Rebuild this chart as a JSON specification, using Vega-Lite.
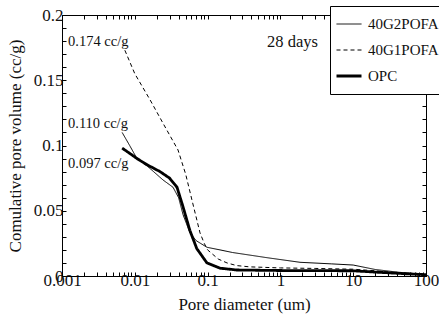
{
  "$schema": "https://vega.github.io/schema/vega-lite/v6.json",
  "width": 364,
  "height": 261,
  "autosize": {"type": "none"},
  "padding": {"left": 62, "top": 15, "right": 13, "bottom": 52},
  "background": "white",
  "config": {
    "view": {"stroke": "black", "strokeWidth": 1},
    "font": "Liberation Serif"
  },
  "datasets": {
    "curves": [
      {"series": "40G2POFA", "d": 0.0067, "v": 0.110},
      {"series": "40G2POFA", "d": 0.0085, "v": 0.100},
      {"series": "40G2POFA", "d": 0.0107, "v": 0.090},
      {"series": "40G2POFA", "d": 0.015, "v": 0.084},
      {"series": "40G2POFA", "d": 0.0244, "v": 0.0736},
      {"series": "40G2POFA", "d": 0.0335, "v": 0.068},
      {"series": "40G2POFA", "d": 0.040, "v": 0.060},
      {"series": "40G2POFA", "d": 0.046, "v": 0.047},
      {"series": "40G2POFA", "d": 0.0573, "v": 0.033},
      {"series": "40G2POFA", "d": 0.070, "v": 0.027},
      {"series": "40G2POFA", "d": 0.098, "v": 0.022},
      {"series": "40G2POFA", "d": 0.148, "v": 0.020},
      {"series": "40G2POFA", "d": 0.22, "v": 0.018},
      {"series": "40G2POFA", "d": 0.66, "v": 0.014},
      {"series": "40G2POFA", "d": 1.86, "v": 0.0105},
      {"series": "40G2POFA", "d": 5, "v": 0.0093},
      {"series": "40G2POFA", "d": 10, "v": 0.0084},
      {"series": "40G2POFA", "d": 20, "v": 0.005},
      {"series": "40G2POFA", "d": 40, "v": 0.003},
      {"series": "40G2POFA", "d": 100, "v": 0.001},
      {"series": "40G1POFA", "d": 0.0073, "v": 0.173},
      {"series": "40G1POFA", "d": 0.010, "v": 0.155},
      {"series": "40G1POFA", "d": 0.0162, "v": 0.135},
      {"series": "40G1POFA", "d": 0.025, "v": 0.116},
      {"series": "40G1POFA", "d": 0.0392, "v": 0.0966},
      {"series": "40G1POFA", "d": 0.050, "v": 0.078},
      {"series": "40G1POFA", "d": 0.0611, "v": 0.058},
      {"series": "40G1POFA", "d": 0.0787, "v": 0.033},
      {"series": "40G1POFA", "d": 0.090, "v": 0.025},
      {"series": "40G1POFA", "d": 0.100, "v": 0.020},
      {"series": "40G1POFA", "d": 0.140, "v": 0.013},
      {"series": "40G1POFA", "d": 0.185, "v": 0.010},
      {"series": "40G1POFA", "d": 0.25, "v": 0.008},
      {"series": "40G1POFA", "d": 0.38, "v": 0.007},
      {"series": "40G1POFA", "d": 1, "v": 0.0062},
      {"series": "40G1POFA", "d": 3, "v": 0.0058},
      {"series": "40G1POFA", "d": 10, "v": 0.0052},
      {"series": "40G1POFA", "d": 20, "v": 0.004},
      {"series": "40G1POFA", "d": 40, "v": 0.0025},
      {"series": "40G1POFA", "d": 100, "v": 0.0015},
      {"series": "OPC", "d": 0.0067, "v": 0.098},
      {"series": "OPC", "d": 0.0085, "v": 0.094},
      {"series": "OPC", "d": 0.0107, "v": 0.090},
      {"series": "OPC", "d": 0.015, "v": 0.085},
      {"series": "OPC", "d": 0.0222, "v": 0.080},
      {"series": "OPC", "d": 0.030, "v": 0.075},
      {"series": "OPC", "d": 0.038, "v": 0.068},
      {"series": "OPC", "d": 0.046, "v": 0.053},
      {"series": "OPC", "d": 0.057, "v": 0.035},
      {"series": "OPC", "d": 0.071, "v": 0.021},
      {"series": "OPC", "d": 0.098, "v": 0.010},
      {"series": "OPC", "d": 0.148, "v": 0.006},
      {"series": "OPC", "d": 0.25, "v": 0.0046},
      {"series": "OPC", "d": 1, "v": 0.0042},
      {"series": "OPC", "d": 10, "v": 0.0040},
      {"series": "OPC", "d": 20, "v": 0.003},
      {"series": "OPC", "d": 50, "v": 0.0018},
      {"series": "OPC", "d": 100, "v": 0.001}
    ],
    "notes": [
      {"label": "0.174 cc/g", "d": 0.00121, "v": 0.179, "size": 14.5},
      {"label": "0.110 cc/g", "d": 0.00121, "v": 0.1165, "size": 14.5},
      {"label": "0.097 cc/g", "d": 0.00121, "v": 0.0858, "size": 14.5},
      {"label": "28 days", "d": 0.655, "v": 0.1793, "size": 16.5}
    ]
  },
  "layer": [
    {
      "data": {"name": "curves"},
      "mark": {"type": "line", "color": "black", "strokeCap": "butt"},
      "encoding": {
        "x": {
          "field": "d", "type": "quantitative",
          "scale": {"type": "log", "domain": [0.001, 100], "nice": false},
          "axis": {
            "orient": "bottom",
            "title": "Pore diameter (um)",
            "values": [0.001,0.002,0.003,0.004,0.005,0.006,0.007,0.008,0.009,0.01,0.02,0.03,0.04,0.05,0.06,0.07,0.08,0.09,0.1,0.2,0.3,0.4,0.5,0.6,0.7,0.8,0.9,1,2,3,4,5,6,7,8,9,10,20,30,40,50,60,70,80,90,100],
            "tickCount": 1000,
            "format": "~g",
            "labelExpr": "indexof(['0.001','0.01','0.1','1','10','100'], datum.label) >= 0 ? datum.label : ''",
            "ticks": true,
            "tickSize": -4,
            "tickColor": "black",
            "encode": {"ticks": {"update": {"y2": {"signal": "indexof([0.001,0.01,0.1,1,10,100], datum.value) >= 0 ? -7 : -4"}}}},
            "domainColor": "black",
            "grid": false,
            "labelOverlap": false,
            "labelFlush": false,
            "labelFont": "Liberation Serif",
            "labelFontSize": 17,
            "labelColor": "#111",
            "labelPadding": 0,
            "titleFont": "Liberation Serif",
            "titleFontSize": 17,
            "titleFontWeight": "normal",
            "titleColor": "#111",
            "titlePadding": 8
          }
        },
        "y": {
          "field": "v", "type": "quantitative",
          "scale": {"domain": [0, 0.2], "nice": false, "zero": true},
          "axis": {
            "orient": "left",
            "title": "Comulative pore volume  (cc/g)",
            "values": [0,0.01,0.02,0.03,0.04,0.05,0.06,0.07,0.08,0.09,0.1,0.11,0.12,0.13,0.14,0.15,0.16,0.17,0.18,0.19,0.2],
            "tickCount": 1000,
            "format": "~g",
            "labelExpr": "indexof(['0','0.05','0.1','0.15','0.2'], datum.label) >= 0 ? datum.label : ''",
            "ticks": true,
            "tickSize": -4,
            "tickColor": "black",
            "encode": {"ticks": {"update": {"x2": {"signal": "indexof([0,0.05,0.1,0.15,0.2], datum.value) >= 0 ? 7 : 4"}}}},
            "domainColor": "black",
            "grid": false,
            "labelOverlap": false,
            "labelFont": "Liberation Serif",
            "labelFontSize": 17,
            "labelColor": "#111",
            "labelPadding": 3,
            "titleFont": "Liberation Serif",
            "titleFontSize": 17,
            "titleFontWeight": "normal",
            "titleColor": "#111",
            "titlePadding": 9
          }
        },
        "strokeDash": {
          "field": "series", "type": "nominal",
          "scale": {"domain": ["40G2POFA", "40G1POFA", "OPC"], "range": [[1, 0], [4, 3], [1, 0]]},
          "legend": {"title": null, "orient": "none", "legendX": 268, "legendY": -9, "direction": "vertical", "fillColor": "white", "strokeColor": "black", "padding": 5, "symbolType": "stroke", "symbolSize": 625, "symbolStrokeColor": "black", "labelFontSize": 15, "labelFont": "Liberation Serif", "labelColor": "#111", "labelOffset": 5, "clipHeight": 26, "rowPadding": 0}
        },
        "strokeWidth": {
          "field": "series", "type": "nominal",
          "scale": {"type": "ordinal", "domain": ["40G2POFA", "40G1POFA", "OPC"], "range": [1, 1, 2.8]},
          "legend": {"title": null, "orient": "none", "legendX": 268, "legendY": -9, "direction": "vertical", "fillColor": "white", "strokeColor": "black", "padding": 5, "symbolType": "stroke", "symbolSize": 625, "symbolStrokeColor": "black", "labelFontSize": 15, "labelFont": "Liberation Serif", "labelColor": "#111", "labelOffset": 5, "clipHeight": 26, "rowPadding": 0}
        }
      }
    },
    {
      "data": {"name": "notes"},
      "mark": {"type": "text", "align": "left", "baseline": "middle", "color": "#111", "font": "Liberation Serif"},
      "encoding": {
        "x": {"field": "d", "type": "quantitative", "scale": {"type": "log", "domain": [0.001, 100], "nice": false}, "axis": null},
        "y": {"field": "v", "type": "quantitative", "scale": {"domain": [0, 0.2], "nice": false, "zero": true}, "axis": null},
        "text": {"field": "label"},
        "size": {"field": "size", "type": "quantitative", "scale": null}
      }
    },
    {
      "data": {"name": "curves"},
      "mark": {"type": "point", "opacity": 0},
      "encoding": {
        "x": {
          "field": "d", "type": "quantitative",
          "scale": {"type": "log", "domain": [0.001, 100], "nice": false},
          "axis": {
            "orient": "top", "title": null, "labels": false,
            "values": [0.001,0.002,0.003,0.004,0.005,0.006,0.007,0.008,0.009,0.01,0.02,0.03,0.04,0.05,0.06,0.07,0.08,0.09,0.1,0.2,0.3,0.4,0.5,0.6,0.7,0.8,0.9,1,2,3,4,5,6,7,8,9,10,20,30,40,50,60,70,80,90,100],
            "tickCount": 1000,
            "ticks": true, "tickSize": -4, "tickColor": "black", "domainColor": "black", "grid": false,
            "encode": {"ticks": {"update": {"y2": {"signal": "indexof([0.001,0.01,0.1,1,10,100], datum.value) >= 0 ? 7 : 4"}}}}
          }
        },
        "y": {
          "field": "v", "type": "quantitative",
          "scale": {"domain": [0, 0.2], "nice": false, "zero": true},
          "axis": {
            "orient": "right", "title": null, "labels": false,
            "values": [0,0.01,0.02,0.03,0.04,0.05,0.06,0.07,0.08,0.09,0.1,0.11,0.12,0.13,0.14,0.15,0.16,0.17,0.18,0.19,0.2],
            "tickCount": 1000,
            "ticks": true, "tickSize": -4, "tickColor": "black", "domainColor": "black", "grid": false,
            "encode": {"ticks": {"update": {"x2": {"signal": "indexof([0,0.05,0.1,0.15,0.2], datum.value) >= 0 ? -7 : -4"}}}}
          }
        }
      }
    }
  ],
  "resolve": {"scale": {"x": "independent", "y": "independent"}}
}
